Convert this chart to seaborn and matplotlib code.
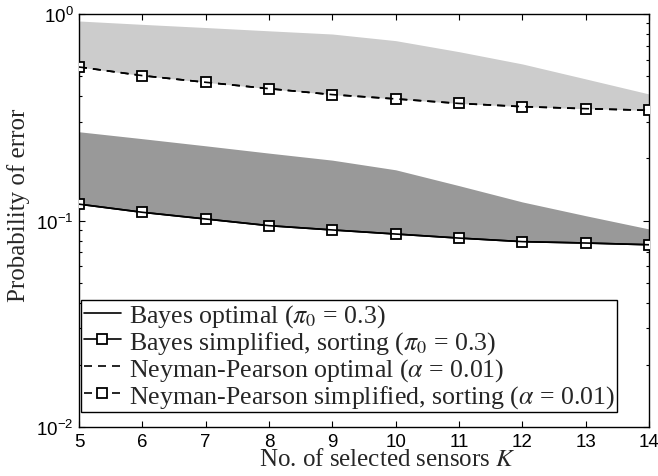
import numpy as np
import pandas as pd
import matplotlib
matplotlib.use("Agg")
import matplotlib.pyplot as plt
import seaborn as sns

# ---- data ----
K = [5, 6, 7, 8, 9, 10, 11, 12, 13, 14]
bayes_opt = [0.120, 0.1096, 0.1017, 0.0944, 0.0900, 0.0860, 0.0822, 0.0790, 0.0778, 0.0763]
bayes_simpl = [0.120, 0.1096, 0.1017, 0.0944, 0.0900, 0.0860, 0.0822, 0.0790, 0.0778, 0.0763]
bayes_upper = [0.269, 0.249, 0.230, 0.212, 0.196, 0.176, 0.1475, 0.123, 0.1055, 0.091]
np_opt = [0.554, 0.503, 0.467, 0.435, 0.407, 0.388, 0.369, 0.356, 0.348, 0.3416]
np_simpl = [0.554, 0.503, 0.467, 0.435, 0.407, 0.388, 0.369, 0.356, 0.348, 0.3416]
np_upper = [0.925, 0.891, 0.860, 0.829, 0.800, 0.743, 0.657, 0.573, 0.485, 0.410]

labels = [r"Bayes optimal ($\pi_0$ = 0.3)",
          r"Bayes simplified, sorting ($\pi_0$ = 0.3)",
          r"Neyman-Pearson optimal ($\alpha$ = 0.01)",
          r"Neyman-Pearson simplified, sorting ($\alpha$ = 0.01)"]

df = pd.DataFrame({"K": K, "bayes_opt": bayes_opt, "bayes_simpl": bayes_simpl,
                   "np_opt": np_opt, "np_simpl": np_simpl})

sns.set_style("ticks")
plt.rcParams["font.family"] = ["Liberation Serif", "DejaVu Serif"]
plt.rcParams["mathtext.fontset"] = "stix"
plt.rcParams["xtick.direction"] = "in"
plt.rcParams["ytick.direction"] = "in"

fig = plt.figure(figsize=(6.58, 4.77), dpi=100)
ax = fig.add_axes([79 / 658, 49 / 477, 570 / 658, 413 / 477])

ax.fill_between(K, np_opt, np_upper, color="#cccccc", lw=0, zorder=1)
ax.fill_between(K, bayes_opt, bayes_upper, color="#999999", lw=0, zorder=1)

lw = 1.2
dash = (0, (4.8, 3.6))
mk = dict(marker="s", markersize=7, markerfacecolor="white",
          markeredgecolor="black", markeredgewidth=1.3)

sns.lineplot(data=df, x="K", y="bayes_simpl", ax=ax, color="black", lw=lw,
             label=labels[1], zorder=3, **mk)
sns.lineplot(data=df, x="K", y="np_simpl", ax=ax, color="black", lw=lw,
             linestyle=dash, label=labels[3], zorder=3, **mk)
sns.lineplot(data=df, x="K", y="bayes_opt", ax=ax, color="black", lw=lw,
             label=labels[0], zorder=4)
sns.lineplot(data=df, x="K", y="np_opt", ax=ax, color="black", lw=lw,
             linestyle=dash, label=labels[2], zorder=4)

ax.set_yscale("log")
ax.set_xlim(5, 14)
ax.set_ylim(1e-2, 1)
ax.set_xticks(K)

for s in ax.spines.values():
    s.set_visible(True)
    s.set_linewidth(1.0)
    s.set_color("black")

ax.tick_params(which="both", direction="in", top=True, right=True, colors="black")
ax.tick_params(which="major", length=4.5, width=0.8, pad=4,
               labelsize=13.5, labelfontfamily="Liberation Sans")
ax.tick_params(which="minor", length=2.5, width=0.8)
ax.tick_params(axis="x", which="minor", bottom=False, top=False)

ax.set_xlabel(r"No. of selected sensors $K$", fontsize=18)
ax.set_ylabel("Probability of error", fontsize=18)
ax.xaxis.set_label_coords(0.541, -0.052)
ax.yaxis.set_label_coords(-0.086, 0.54)

handles, labs = ax.get_legend_handles_labels()
order = [labs.index(l) for l in labels]
leg = ax.legend([handles[i] for i in order], [labs[i] for i in order],
                loc="lower left", bbox_to_anchor=(0.0035, 0.036),
                fontsize=18.6, frameon=True, fancybox=False, framealpha=1,
                edgecolor="black", handlelength=1.45, handletextpad=0.3,
                labelspacing=0.0, borderpad=0.1, borderaxespad=0)
leg.get_frame().set_linewidth(1.0)

fig.savefig("out.png", dpi=100)
